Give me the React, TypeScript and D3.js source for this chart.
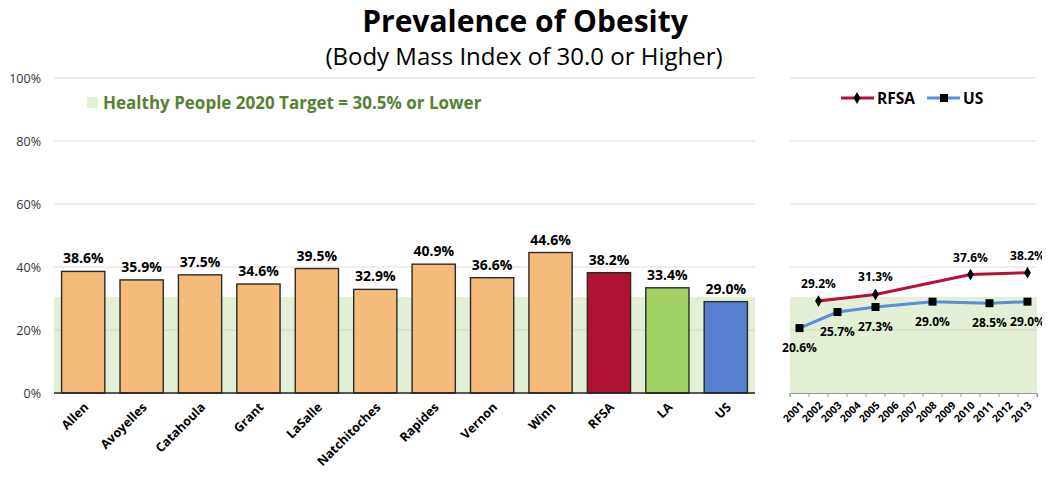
import * as d3 from "d3";
import { useEffect, useRef } from "react";

const places = ["Allen", "Avoyelles", "Catahoula", "Grant", "LaSalle", "Natchitoches", "Rapides", "Vernon", "Winn", "RFSA", "LA", "US"];
const placeValues = [38.6, 35.9, 37.5, 34.6, 39.5, 32.9, 40.9, 36.6, 44.6, 38.2, 33.4, 29.0];
const placeColors = ["#F4BB7B", "#F4BB7B", "#F4BB7B", "#F4BB7B", "#F4BB7B", "#F4BB7B", "#F4BB7B", "#F4BB7B", "#F4BB7B", "#AF1232", "#A2D266", "#5780D0"];
const yTicks = [0, 20, 40, 60, 80, 100];
const target = 30.5;

const years = ["2001", "2002", "2003", "2004", "2005", "2006", "2007", "2008", "2009", "2010", "2011", "2012", "2013"];
const rfsaYears = ["2002", "2005", "2010", "2013"];
const rfsaValues = [29.2, 31.3, 37.6, 38.2];
const usYears = ["2001", "2003", "2005", "2008", "2011", "2013"];
const usValues = [20.6, 25.7, 27.3, 29.0, 28.5, 29.0];

const FONT = "'Open Sans', 'DejaVu Sans', sans-serif";

export default function App() {
    const ref = useRef<SVGSVGElement>(null);
    const width = 1050;
    const height = 479;

    useEffect(() => {
        const svg = d3.select(ref.current);
        svg.selectAll("*").remove();
        svg.attr("font-family", FONT);

        const y = d3.scaleLinear().domain([0, 100]).range([393, 78]);

        // Titles
        svg.append("text").attr("x", 525).attr("y", 32).attr("text-anchor", "middle")
            .attr("font-size", 30).attr("font-weight", "bold").text("Prevalence of Obesity");
        svg.append("text").attr("x", 524).attr("y", 65).attr("text-anchor", "middle")
            .attr("font-size", 24).text("(Body Mass Index of 30.0 or Higher)");

        // ---- Left bar chart
        const x = d3.scaleBand().domain(places).range([54, 755]).paddingInner(0.26).paddingOuter(0.13);
        const left = svg.append("g");

        left.append("rect").attr("x", 54).attr("width", 755 - 54)
            .attr("y", y(target)).attr("height", y(0) - y(target)).attr("fill", "#E3F0D6");

        left.append("g").selectAll("line").data(yTicks.slice(1)).join("line")
            .attr("x1", 54).attr("x2", 755).attr("y1", (d) => y(d)).attr("y2", (d) => y(d))
            .attr("stroke", (d) => (d <= target ? "#D4DEC9" : "#E8E8E8")).attr("stroke-width", 1.3);

        left.append("g").selectAll("text").data(yTicks).join("text")
            .attr("x", 41).attr("y", (d) => y(d) + 5).attr("text-anchor", "end")
            .attr("font-size", 12.5).attr("fill", "#333").text((d) => `${d}%`);

        left.append("g").selectAll("rect").data(places).join("rect")
            .attr("x", (d) => x(d)!).attr("width", x.bandwidth())
            .attr("y", (d, i) => y(placeValues[i])).attr("height", (d, i) => y(0) - y(placeValues[i]))
            .attr("fill", (d, i) => placeColors[i]).attr("stroke", "#2a2a2a").attr("stroke-width", 1.4);

        left.append("line").attr("x1", 54).attr("x2", 755).attr("y1", y(0)).attr("y2", y(0))
            .attr("stroke", "#222").attr("stroke-width", 1.5);

        left.append("g").selectAll("text").data(places).join("text")
            .attr("x", (d) => x(d)! + x.bandwidth() / 2).attr("y", (d, i) => y(placeValues[i]) - 8)
            .attr("text-anchor", "middle").attr("font-size", 14).attr("font-weight", "bold")
            .text((d, i) => `${placeValues[i].toFixed(1)}%`);

        left.append("g").selectAll("text").data(places).join("text")
            .attr("transform", (d) => `translate(${x(d)! + x.bandwidth() / 2 + 6},${y(0) + 15}) rotate(-45)`)
            .attr("text-anchor", "end").attr("font-size", 12.5).attr("font-weight", "bold").text((d) => d);

        // target legend
        left.append("rect").attr("x", 87).attr("y", 97).attr("width", 11).attr("height", 11).attr("fill", "#E3F0D6");
        left.append("text").attr("x", 103).attr("y", 109).attr("font-size", 17).attr("font-weight", "bold")
            .attr("fill", "#548235").text("Healthy People 2020 Target = 30.5% or Lower");

        // ---- Right line chart
        const x2 = d3.scaleBand().domain(years).range([790, 1037]);
        const right = svg.append("g");
        const cx = (d: string) => x2(d)! + x2.bandwidth() / 2;

        right.append("rect").attr("x", 790).attr("width", 1037 - 790)
            .attr("y", y(target)).attr("height", y(0) - y(target)).attr("fill", "#E3F0D6");

        right.append("g").selectAll("line").data(yTicks.slice(1)).join("line")
            .attr("x1", 790).attr("x2", 1037).attr("y1", (d) => y(d)).attr("y2", (d) => y(d))
            .attr("stroke", (d) => (d <= target ? "#D4DEC9" : "#E8E8E8")).attr("stroke-width", 1.3);

        const xAxis = right.append("g").attr("transform", `translate(0,${y(0)})`)
            .call(d3.axisBottom(x2).tickSize(4).tickFormat(() => ""));
        xAxis.select(".domain").attr("stroke", "#999");
        xAxis.selectAll(".tick line").attr("stroke", "#999").attr("transform", `translate(${-x2.bandwidth() / 2},0)`);
        xAxis.append("line").attr("x1", 1037).attr("x2", 1037).attr("y1", 0).attr("y2", 4).attr("stroke", "#999");

        right.append("g").selectAll("text").data(years).join("text")
            .attr("transform", (d) => `translate(${cx(d) + 5},${y(0) + 13}) rotate(-45)`)
            .attr("text-anchor", "end").attr("font-size", 10.5).attr("font-weight", "bold").text((d) => d);

        const rfsa = rfsaYears.map((yr, i) => ({ yr, v: rfsaValues[i] }));
        const us = usYears.map((yr, i) => ({ yr, v: usValues[i] }));
        const line = d3.line<{ yr: string; v: number }>().x((d) => cx(d.yr)).y((d) => y(d.v));

        right.append("path").attr("d", line(us)!).attr("fill", "none").attr("stroke", "#5B8DD9").attr("stroke-width", 3);
        right.append("path").attr("d", line(rfsa)!).attr("fill", "none").attr("stroke", "#B5123A").attr("stroke-width", 3);

        right.append("g").selectAll("rect").data(us).join("rect")
            .attr("x", (d) => cx(d.yr) - 4).attr("y", (d) => y(d.v) - 4).attr("width", 8).attr("height", 8).attr("fill", "#000");
        right.append("g").selectAll("path").data(rfsa).join("path")
            .attr("d", d3.symbol(d3.symbolDiamond, 40)()!)
            .attr("transform", (d) => `translate(${cx(d.yr)},${y(d.v)})`).attr("fill", "#000");

        right.append("g").selectAll("text").data(rfsa).join("text")
            .attr("x", (d) => cx(d.yr)).attr("y", (d) => y(d.v) - 13).attr("text-anchor", "middle")
            .attr("font-size", 12).attr("font-weight", "bold").text((d) => `${d.v.toFixed(1)}%`);
        right.append("g").selectAll("text").data(us).join("text")
            .attr("x", (d) => cx(d.yr)).attr("y", (d) => y(d.v) + 24).attr("text-anchor", "middle")
            .attr("font-size", 12).attr("font-weight", "bold").text((d) => `${d.v.toFixed(1)}%`);

        // legend
        const lg = right.append("g").attr("transform", "translate(0,98)");
        lg.append("line").attr("x1", 841).attr("x2", 874).attr("stroke", "#B5123A").attr("stroke-width", 3);
        lg.append("path").attr("d", d3.symbol(d3.symbolDiamond, 40)()!).attr("transform", "translate(857,0)");
        lg.append("text").attr("x", 877).attr("y", 6).attr("font-size", 15.5).attr("font-weight", "bold").text("RFSA");
        lg.append("line").attr("x1", 927).attr("x2", 960).attr("stroke", "#5B8DD9").attr("stroke-width", 3);
        lg.append("rect").attr("x", 940).attr("y", -4).attr("width", 8).attr("height", 8);
        lg.append("text").attr("x", 963).attr("y", 6).attr("font-size", 15.5).attr("font-weight", "bold").text("US");
    }, []);

    return <svg ref={ref} width={width} height={height} style={{ display: "block", margin: -8 }} />;
}
